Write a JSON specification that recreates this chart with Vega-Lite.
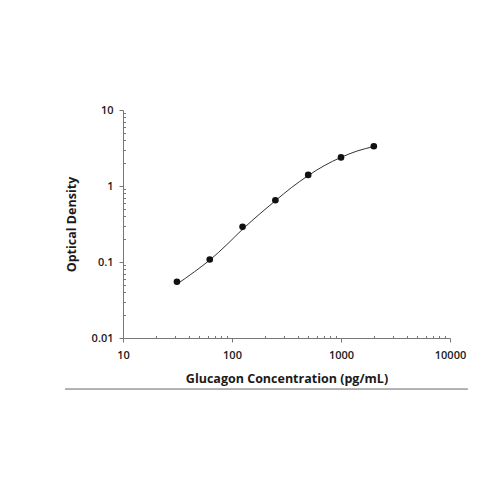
{
  "$schema": "https://vega.github.io/schema/vega-lite/v6.json",
  "autosize": {"type": "none"},
  "width": 327,
  "height": 228,
  "padding": {"left": 123, "top": 110, "right": 50, "bottom": 162},
  "background": "white",
  "config": {
    "view": {"stroke": null},
    "font": "Open Sans",
    "axis": {
      "grid": false,
      "domainColor": "#777",
      "tickColor": "#777",
      "labelColor": "#1a1a1a",
      "titleColor": "#1a1a1a",
      "labelFont": "Open Sans",
      "titleFont": "Open Sans",
      "labelFontSize": 11,
      "labelFontWeight": 600,
      "titleFontSize": 12.5,
      "titleFontWeight": "bold"
    }
  },
  "datasets": {
    "points": [
      {"conc": 31.25, "od": 0.055},
      {"conc": 62.5, "od": 0.108},
      {"conc": 125, "od": 0.29},
      {"conc": 250, "od": 0.65},
      {"conc": 500, "od": 1.4},
      {"conc": 1000, "od": 2.38},
      {"conc": 2000, "od": 3.33}
    ],
    "curve": [
      {"conc": 31.25, "od": 0.051},
      {"conc": 45, "od": 0.074},
      {"conc": 62.5, "od": 0.106},
      {"conc": 90, "od": 0.17},
      {"conc": 125, "od": 0.27},
      {"conc": 180, "od": 0.43},
      {"conc": 250, "od": 0.64},
      {"conc": 350, "od": 0.95},
      {"conc": 500, "od": 1.37},
      {"conc": 700, "od": 1.85},
      {"conc": 1000, "od": 2.38},
      {"conc": 1400, "od": 2.88},
      {"conc": 2000, "od": 3.3}
    ],
    "sep": [{"x1": 2.94, "x2": 14600, "y": 0.00213}]
  },
  "layer": [
    {
      "data": {"name": "curve"},
      "mark": {"type": "line", "color": "#333", "strokeWidth": 1, "interpolate": "monotone"},
      "encoding": {
        "x": {
          "field": "conc", "type": "quantitative",
          "scale": {"type": "log", "domain": [10, 10000]},
          "title": "Glucagon Concentration (pg/mL)",
          "axis": {
            "values": [10, 20, 30, 40, 50, 60, 70, 80, 90, 100, 200, 300, 400, 500, 600, 700, 800, 900, 1000, 2000, 3000, 4000, 5000, 6000, 7000, 8000, 9000, 10000],
            "labelExpr": "(datum.value == 10 || datum.value == 100 || datum.value == 1000 || datum.value == 10000) ? format(datum.value, 'd') : ''",
            "tickSize": {"condition": {"test": "datum.value == 10 || datum.value == 100 || datum.value == 1000 || datum.value == 10000", "value": 4}, "value": -2.5},
            "labelPadding": 7,
            "titlePadding": 12,
            "labelFlush": false,
            "labelOverlap": false
          }
        },
        "y": {
          "field": "od", "type": "quantitative",
          "scale": {"type": "log", "domain": [0.01, 10]},
          "title": "Optical Density",
          "axis": {
            "values": [0.01, 0.02, 0.03, 0.04, 0.05, 0.06, 0.07, 0.08, 0.09, 0.1, 0.2, 0.3, 0.4, 0.5, 0.6, 0.7, 0.8, 0.9, 1, 2, 3, 4, 5, 6, 7, 8, 9, 10],
            "labelExpr": "(datum.value == 0.01 || datum.value == 0.1 || datum.value == 1 || datum.value == 10) ? (datum.value < 1 ? format(datum.value, '.2~f') : format(datum.value, 'd')) : ''",
            "tickSize": {"condition": {"test": "datum.value == 0.01 || datum.value == 0.1 || datum.value == 1 || datum.value == 10", "value": 4}, "value": -2.5},
            "labelPadding": 6,
            "titlePadding": 13,
            "labelFlush": false,
            "labelOverlap": false
          }
        }
      }
    },
    {
      "data": {"name": "points"},
      "mark": {"type": "point", "filled": true, "color": "#111", "size": 44, "opacity": 1},
      "encoding": {
        "x": {"field": "conc", "type": "quantitative"},
        "y": {"field": "od", "type": "quantitative"}
      }
    },
    {
      "data": {"name": "sep"},
      "mark": {"type": "rule", "color": "#666", "strokeWidth": 1, "clip": false},
      "encoding": {
        "x": {"field": "x1", "type": "quantitative"},
        "x2": {"field": "x2"},
        "y": {"field": "y", "type": "quantitative"}
      }
    }
  ]
}
